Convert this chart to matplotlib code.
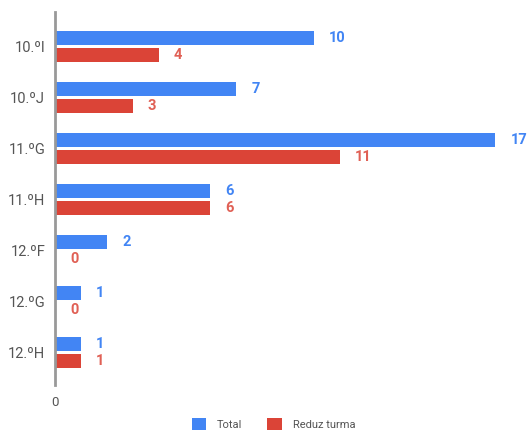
import matplotlib.pyplot as plt
import numpy as np

plt.rcParams['font.family'] = ['Roboto', 'DejaVu Sans']

# turmas e contagens
turmas = ['10.ºI', '10.ºJ', '11.ºG', '11.ºH', '12.ºF', '12.ºG', '12.ºH']
total = [10, 7, 17, 6, 2, 1, 1]
reduz = [4, 3, 11, 6, 0, 0, 1]

azul = '#4285F4'
verm = '#DB4437'

fig = plt.figure(figsize=(5.31, 4.4), dpi=100)
ax = fig.add_axes([55 / 531, 55 / 440, 1 - 55 / 531, 373 / 440])

y = np.arange(len(turmas))
h = 0.28
ax.barh(y - 0.16, total, height=h, color=azul, label='Total')
ax.barh(y + 0.17, reduz, height=h, color=verm, label='Reduz turma')

for i in range(len(turmas)):
    ax.annotate(str(total[i]), (total[i], y[i] - 0.16), xytext=(11, 0),
                textcoords='offset points', color=azul, va='center', ha='left',
                fontsize=10.5, fontweight='bold')
    ax.annotate(str(reduz[i]), (reduz[i], y[i] + 0.17), xytext=(11, 0),
                textcoords='offset points', color=verm, va='center', ha='left',
                fontsize=10.5, fontweight='bold', alpha=0.85)

ax.set_xlim(0, 476 / 25.9)
ax.set_ylim(6.647, -0.667)
ax.set_yticks(y)
ax.set_yticklabels(turmas, fontsize=10.5, color='#555555')
ax.set_xticks([0])
ax.set_xticklabels(['0'], fontsize=9.5, color='#555555')
ax.tick_params(length=0, pad=8)
ax.tick_params(axis='y', pad=7)

for s in ['top', 'right', 'bottom']:
    ax.spines[s].set_visible(False)
ax.spines['left'].set_color('#999999')
ax.spines['left'].set_linewidth(2)

fig.legend(loc='lower center', bbox_to_anchor=(0.515, 0.0), ncol=2, frameon=False,
           fontsize=8, handlelength=1.3, handleheight=1.3, handletextpad=1.0,
           columnspacing=2.2, labelcolor='#555555')

fig.savefig('out.png', dpi=100)
